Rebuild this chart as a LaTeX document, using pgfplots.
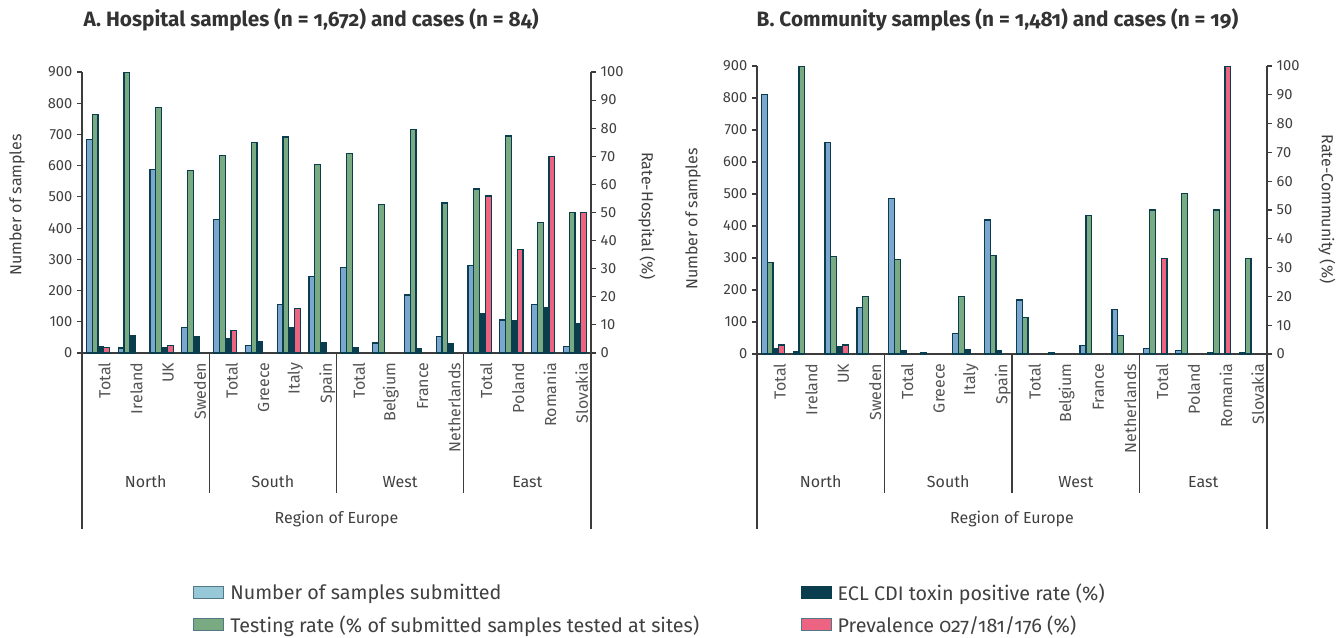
\documentclass[border=0pt]{standalone}
\usepackage{pgfplots}
\pgfplotsset{compat=1.18}
\usepackage{pgfplotstable}
\usepackage{fontspec}
\setmainfont{Fira Sans}

\definecolor{cblue}{HTML}{7BA7CF}
\definecolor{cgreen}{HTML}{7AAA82}
\definecolor{cdark}{HTML}{0A3E4E}
\definecolor{cpink}{HTML}{EC6482}
\definecolor{clblue}{HTML}{96C8D7}
\definecolor{caxis}{HTML}{3C3C3C}
\definecolor{ctext}{HTML}{404040}

% x, samples submitted, testing rate (%), ECL toxin positive rate (%), prevalence 027/181/176 (%)
\pgfplotstableread{
x  n    t     e     p
0  684  84.9  2.4   1.9
1  16   100   6.3   nan
2  587  87.3  1.8   2.7
3  81   65.0  6.0   nan
4  428  70.3  5.3   8.1
5  23   74.9  4.2   nan
6  156  76.9  9.1   15.9
7  246  67.1  3.7   nan
8  275  70.9  1.8   nan
9  32   52.8  nan   nan
10 186  79.6  1.5   nan
11 54   53.4  3.4   nan
12 281  58.4  14.0  55.9
13 106  77.2  11.4  36.7
14 155  46.4  16.3  69.8
15 20   49.9  10.4  49.9
}\hosp

\pgfplotstableread{
x  n    t     e     p
0  811  31.8  1.85  3.1
1  6    100   nan   nan
2  660  33.9  2.4   3.1
3  146  20.0  nan   nan
4  487  32.8  1.2   nan
5  4    nan   nan   nan
6  65   20.0  1.7   nan
7  419  34.1  1.2   nan
8  169  12.7  nan   nan
9  4    nan   nan   nan
10 26   48.0  nan   nan
11 140  6.5   nan   nan
12 17   50.0  nan   33.2
13 10   55.6  nan   nan
14 4    50.0  nan   100
15 4    33.2  nan   nan
}\comm

\pgfplotsset{
  panel/.style={
    scale only axis, anchor=south west,
    xmin=-0.5, xmax=15.5, enlargelimits=false,
    ybar, bar width=0.182,
    axis line style={caxis, line width=1pt},
    tick style={caxis, line width=0.8pt},
    major tick length=3.75pt, tick align=outside,
    tick label style={font=\fontsize{11}{13}\selectfont, text=ctext},
    /pgf/number format/assume math mode=true,
  },
  leftax/.style={
    panel, axis y line*=left, axis x line*=bottom,
    ymin=0, ymax=900, ytick={0,100,...,900},
    xtick={0,...,15},
    xticklabels={Total,Ireland,UK,Sweden,Total,Greece,Italy,Spain,Total,Belgium,France,Netherlands,Total,Poland,Romania,Slovakia},
    xticklabel style={rotate=90, anchor=east, yshift=-5pt, font=\fontsize{12}{14}\selectfont, text=ctext!90},
    x tick style={draw=none},
  },
  rightax/.style={
    panel, axis y line*=right, axis x line=none,
    ymin=0, ymax=100, ytick={0,10,...,100},
  },
  bars/.style={draw=cdark, line width=0.9pt},
}

\begin{document}
\begin{tikzpicture}
\useasboundingbox (0,0) rectangle (1006.5pt,-477.75pt);

% ---- panel A ----
\begin{axis}[leftax, at={(61.5pt,-264.75pt)}, width=381.75pt, height=210.75pt,
  legend columns=2, legend cell align=left,
  legend style={at={(0.218,-0.810)}, anchor=north west, draw=none, fill=none,
    inner sep=0pt, font=\fontsize{14.8}{17}\selectfont\addfontfeatures{Numbers=OldStyle}, text=ctext,
    /tikz/every odd column/.append style={column sep=2.5pt},
    /tikz/every even column/.append style={column sep=74pt},
    row sep=6pt},
  legend image code/.code={\draw[#1] (0pt,-4.5pt) rectangle (22.5pt,4.5pt);},
  ]
\addplot[bars, fill=cblue, bar shift=-0.273, forget plot] table[x=x,y=n]{\hosp};
\addlegendimage{fill=clblue, draw=cdark!70, line width=0.8pt}
\addlegendentry{Number of samples submitted}
\addlegendimage{fill=cdark, draw=cdark, line width=0.8pt}
\addlegendentry{ECL CDI toxin positive rate (\%)}
\addlegendimage{fill=cgreen, draw=cdark!70, line width=0.8pt}
\addlegendentry{Testing rate (\% of submitted samples tested at sites)}
\addlegendimage{fill=cpink, draw=cdark!70, line width=0.8pt}
\addlegendentry{Prevalence 027/181/176 (\%)}
\end{axis}
\begin{axis}[rightax, at={(61.5pt,-264.75pt)}, width=381.75pt, height=210.75pt]
\addplot[bars, fill=cgreen, bar shift=-0.091] table[x=x,y=t]{\hosp};
\addplot[bars, fill=cdark, bar shift=0.091] table[x=x,y=e]{\hosp};
\addplot[bars, fill=cpink, bar shift=0.273] table[x=x,y=p]{\hosp};
\end{axis}

% ---- panel B ----
\begin{axis}[leftax, at={(567.75pt,-265.5pt)}, width=382.5pt, height=216pt]
\addplot[bars, fill=cblue, bar shift=-0.273] table[x=x,y=n]{\comm};
\end{axis}
\begin{axis}[rightax, at={(567.75pt,-265.5pt)}, width=382.5pt, height=216pt]
\addplot[bars, fill=cgreen, bar shift=-0.091] table[x=x,y=t]{\comm};
\addplot[bars, fill=cdark, bar shift=0.091] table[x=x,y=e]{\comm};
\addplot[bars, fill=cpink, bar shift=0.273] table[x=x,y=p]{\comm};
\end{axis}

% ---- annotations, in pixel units ----
\begin{scope}[x=0.75pt, y=-0.75pt, every node/.style={text=ctext}]
  \node[anchor=west, font=\bfseries\fontsize{15.6}{18}\selectfont\addfontfeatures{Numbers=OldStyle}, text=black!80] at (79,20) {A. Hospital samples (n = 1,672) and cases (n = 84)};
  \node[anchor=west, font=\bfseries\fontsize{15.6}{18}\selectfont\addfontfeatures{Numbers=OldStyle}, text=black!80] at (752,20) {B. Community samples (n = 1,481) and cases (n = 19)};

  \node[rotate=90, font=\fontsize{12}{14}\selectfont] at (17,205) {Number of samples};
  \node[rotate=-90, font=\fontsize{12}{14}\selectfont] at (647,216) {Rate-Hospital (\%)};
  \node[rotate=90, font=\fontsize{12}{14}\selectfont] at (693,219) {Number of samples};
  \node[rotate=-90, font=\fontsize{12}{14}\selectfont] at (1327,209) {Rate-Community (\%)};

  \foreach \L/\R/\B in {82/591/353, 757/1267/354} {
    \draw[caxis, line width=0.8pt] (\L,\B) -- (\L,529);
    \draw[caxis, line width=0.8pt] (\R,\B) -- (\R,529);
    \foreach \k in {1,2,3}
      \draw[caxis, line width=0.8pt] ({\L+(\R-\L)*\k/4},\B) -- ({\L+(\R-\L)*\k/4},493);
    \foreach \k/\g in {0/North,1/South,2/West,3/East}
      \node[font=\fontsize{12}{14}\selectfont] at ({\L+(\R-\L)*(\k+0.5)/4},482) {\g};
    \node[font=\fontsize{12}{14}\selectfont] at ({(\L+\R)/2},519) {Region of Europe};
  }
\end{scope}
\end{tikzpicture}
\end{document}
